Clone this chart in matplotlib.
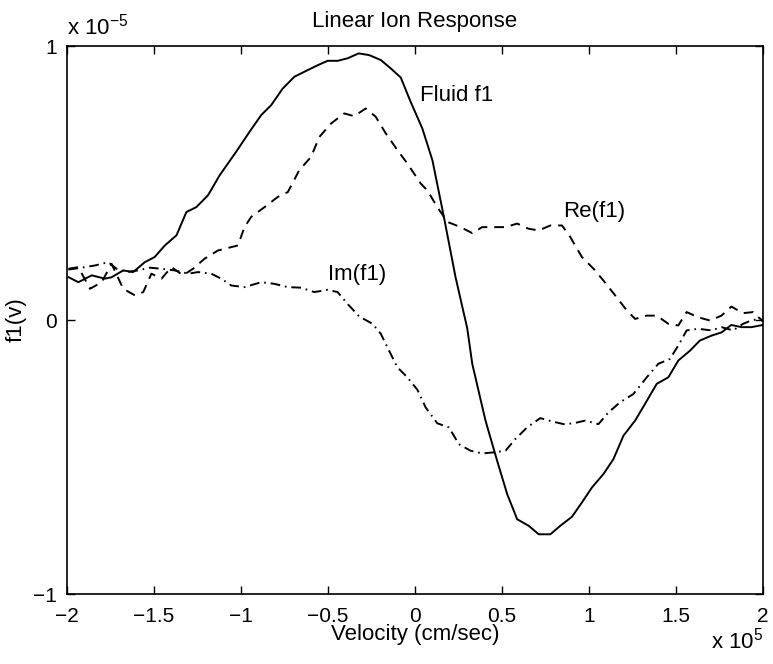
import matplotlib
matplotlib.use('Agg')
import matplotlib.pyplot as plt

# velocity in units of 1e5 cm/sec, f1 in units of 1e-5
fluid_v = [-1.99, -1.935, -1.858, -1.782, -1.744, -1.677, -1.62, -1.553, -1.496, -1.438,
           -1.371, -1.314, -1.257, -1.19, -1.123, -1.028, -0.951, -0.884, -0.827, -0.76,
           -0.693, -0.617, -0.559, -0.502, -0.445, -0.388, -0.324, -0.264, -0.197, -0.139,
           -0.082, -0.025, 0.042, 0.1, 0.166, 0.233, 0.3, 0.329, 0.405, 0.472, 0.53, 0.587,
           0.653, 0.711, 0.778, 0.835, 0.902, 0.959, 1.017, 1.083, 1.14, 1.198, 1.265,
           1.322, 1.389, 1.456, 1.513, 1.58, 1.637, 1.704, 1.762, 1.818, 1.876, 1.933, 2.0]
fluid_f = [0.156, 0.138, 0.163, 0.151, 0.156, 0.181, 0.175, 0.211, 0.23, 0.272,
           0.309, 0.394, 0.412, 0.455, 0.528, 0.614, 0.687, 0.748, 0.784, 0.845,
           0.888, 0.912, 0.93, 0.946, 0.946, 0.955, 0.973, 0.967, 0.949, 0.918,
           0.885, 0.796, 0.699, 0.583, 0.376, 0.156, -0.03, -0.16, -0.367, -0.514, -0.636, -0.727,
           -0.751, -0.782, -0.782, -0.751, -0.718, -0.666, -0.611, -0.562, -0.508, -0.422, -0.367,
           -0.306, -0.233, -0.209, -0.148, -0.112, -0.075, -0.057, -0.045, -0.018, -0.026, -0.026, -0.018]

re_v = [-1.992, -1.935, -1.868, -1.801, -1.744, -1.677, -1.61, -1.562, -1.515, -1.457,
        -1.4, -1.333, -1.276, -1.209, -1.132, -1.018, -0.98, -0.942, -0.865, -0.789,
        -0.731, -0.665, -0.598, -0.55, -0.483, -0.407, -0.35, -0.283, -0.226, -0.168,
        -0.101, -0.044, 0.033, 0.071, 0.128, 0.186, 0.262, 0.329, 0.386, 0.453, 0.52,
        0.587, 0.653, 0.711, 0.778, 0.845, 0.892, 0.959, 1.026, 1.083, 1.15, 1.217,
        1.265, 1.332, 1.389, 1.456, 1.513, 1.561, 1.628, 1.695, 1.761, 1.818, 1.885,
        1.943, 2.0]
re_f = [0.187, 0.193, 0.114, 0.138, 0.205, 0.114, 0.09, 0.102, 0.169, 0.151,
        0.193, 0.163, 0.187, 0.224, 0.254, 0.272, 0.339, 0.376, 0.412, 0.449,
        0.467, 0.547, 0.595, 0.668, 0.717, 0.754, 0.744, 0.772, 0.742, 0.681,
        0.62, 0.571, 0.498, 0.473, 0.412, 0.358, 0.339, 0.317, 0.339, 0.339, 0.339,
        0.352, 0.333, 0.327, 0.345, 0.345, 0.303, 0.23, 0.187, 0.144, 0.09, 0.035,
        0.004, 0.016, 0.016, -0.014, -0.02, 0.029, 0.01, -0.002, 0.016, 0.049, 0.025,
        0.029, -0.006]

im_v = [-1.992, -1.916, -1.84, -1.763, -1.715, -1.658, -1.591, -1.524, -1.457, -1.381,
        -1.304, -1.247, -1.171, -1.114, -1.056, -0.98, -0.884, -0.808, -0.731, -0.655,
        -0.579, -0.502, -0.445, -0.388, -0.321, -0.244, -0.197, -0.149, -0.101, -0.044,
        0.014, 0.061, 0.128, 0.195, 0.252, 0.319, 0.386, 0.453, 0.52, 0.577, 0.644,
        0.72, 0.787, 0.854, 0.911, 0.978, 1.054, 1.112, 1.179, 1.255, 1.332, 1.398,
        1.465, 1.513, 1.561, 1.628, 1.704, 1.761, 1.828, 1.885, 1.943, 2.0]
im_f = [0.184, 0.191, 0.199, 0.211, 0.187, 0.175, 0.181, 0.191, 0.187, 0.181,
        0.169, 0.175, 0.169, 0.151, 0.126, 0.12, 0.138, 0.132, 0.12, 0.118,
        0.102, 0.11, 0.102, 0.059, 0.013, -0.014, -0.05, -0.112, -0.173, -0.209,
        -0.255, -0.319, -0.377, -0.392, -0.453, -0.477, -0.487, -0.483, -0.477, -0.434, -0.392,
        -0.358, -0.37, -0.38, -0.377, -0.367, -0.38, -0.337, -0.3, -0.27, -0.209, -0.16,
        -0.142, -0.093, -0.038, -0.032, -0.038, -0.026, -0.038, -0.014, 0.001, 0.001]

plt.rcParams['font.family'] = ['Liberation Sans', 'DejaVu Sans']
plt.rcParams['lines.scale_dashes'] = False

fs = 16
tfs = 15

fig = plt.figure(figsize=(7.73, 6.64), dpi=100)
ax = fig.add_axes([0.0867, 0.1054, 0.9004, 0.8253])

lw = 1.4
ax.plot(fluid_v, fluid_f, color='black', linewidth=lw)
ax.plot(re_v, re_f, color='black', linewidth=lw, dashes=(7, 5))
ax.plot(im_v, im_f, color='black', linewidth=lw, dashes=(7, 3.5, 1.2, 3.5))

ax.text(0.03, 0.82, 'Fluid f1', ha='left', va='center', fontsize=fs)
ax.text(0.85, 0.395, 'Re(f1)', ha='left', va='center', fontsize=fs)
ax.text(-0.5, 0.165, 'Im(f1)', ha='left', va='center', fontsize=fs)

ax.set_xlim(-2, 2)
ax.set_ylim(-1, 1)
ax.set_xticks([-2, -1.5, -1, -0.5, 0, 0.5, 1, 1.5, 2])
ax.set_xticklabels(['\u22122', '\u22121.5', '\u22121', '\u22120.5', '0', '0.5', '1', '1.5', '2'])
ax.set_yticks([-1, 0, 1])
ax.set_yticklabels(['\u22121', '0', '1'])
ax.tick_params(direction='in', length=6, width=1, top=True, right=True, labelsize=tfs)
ax.tick_params(axis='x', pad=9)
ax.tick_params(axis='y', pad=7)
for s in ax.spines.values():
    s.set_linewidth(1.2)

ax.set_title('Linear Ion Response', fontsize=fs, pad=14)
ax.set_xlabel('Velocity (cm/sec)', fontsize=fs, labelpad=-1)
ax.set_ylabel('f1(v)', fontsize=fs, labelpad=5)

ax.text(0.0, 1.012, r'x 10$^{\mathregular{-5}}$', transform=ax.transAxes, ha='left', va='bottom', fontsize=fs)
ax.text(1.0, -0.062, r'x 10$^{\mathregular{5}}$', transform=ax.transAxes, ha='right', va='top', fontsize=fs)

fig.savefig('out.png', dpi=100)
